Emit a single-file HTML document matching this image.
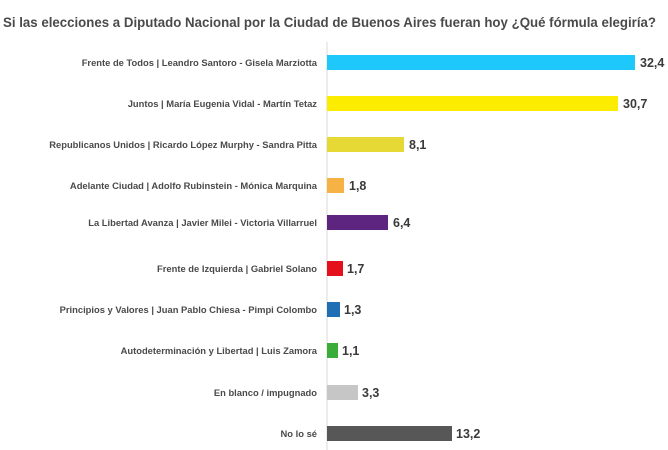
<!DOCTYPE html>
<html><head><meta charset="utf-8"><style>
html,body{margin:0;padding:0;background:#fff;}
svg{display:block;font-family:"Liberation Sans",sans-serif;}
</style></head><body>
<svg width="668" height="450" viewBox="0 0 668 450">
<text x="3" y="27" font-size="13.5" font-weight="bold" fill="#4a4a4a" textLength="653" lengthAdjust="spacingAndGlyphs">Si las elecciones a Diputado Nacional por la Ciudad de Buenos Aires fueran hoy ¿Qué fórmula elegiría?</text>
<line x1="327" y1="42" x2="327" y2="450" stroke="#d8d8d8" stroke-width="1"/>
<g font-size="9.4" font-weight="bold" fill="#4a4a4a" text-anchor="end">
<text x="317" y="66">Frente de Todos | Leandro Santoro - Gisela Marziotta</text>
<text x="317" y="107">Juntos | María Eugenia Vidal - Martín Tetaz</text>
<text x="317" y="148">Republicanos Unidos | Ricardo López Murphy - Sandra Pitta</text>
<text x="317" y="189">Adelante Ciudad | Adolfo Rubinstein - Mónica Marquina</text>
<text x="317" y="226">La Libertad Avanza | Javier Milei - Victoria Villarruel</text>
<text x="317" y="272">Frente de Izquierda | Gabriel Solano</text>
<text x="317" y="313">Principios y Valores | Juan Pablo Chiesa - Pimpi Colombo</text>
<text x="317" y="354">Autodeterminación y Libertad | Luis Zamora</text>
<text x="317" y="396">En blanco / impugnado</text>
<text x="317" y="437">No lo sé</text>
</g>
<g>
<rect x="327" y="55" width="308" height="15" fill="#1ec8fa"/>
<rect x="327" y="96" width="291" height="15" fill="#fcec00"/>
<rect x="327" y="137" width="77" height="15" fill="#e6d935"/>
<rect x="327" y="178" width="17" height="15" fill="#f7b245"/>
<rect x="327" y="215" width="61" height="15" fill="#5e2580"/>
<rect x="327" y="261" width="16" height="15" fill="#e4101c"/>
<rect x="327" y="302" width="13" height="15" fill="#1f6fb5"/>
<rect x="327" y="343" width="11" height="15" fill="#3aac3a"/>
<rect x="327" y="385" width="31" height="15" fill="#c6c6c6"/>
<rect x="327" y="426" width="125" height="15" fill="#575757"/>
</g>
<g font-size="12.5" font-weight="bold" fill="#3a3a3a">
<text x="640" y="67">32,4</text>
<text x="623" y="108">30,7</text>
<text x="409" y="149">8,1</text>
<text x="349" y="190">1,8</text>
<text x="393" y="227">6,4</text>
<text x="347" y="273">1,7</text>
<text x="344" y="314">1,3</text>
<text x="342" y="355">1,1</text>
<text x="362" y="397">3,3</text>
<text x="456" y="438">13,2</text>
</g>
</svg>
</body></html>
